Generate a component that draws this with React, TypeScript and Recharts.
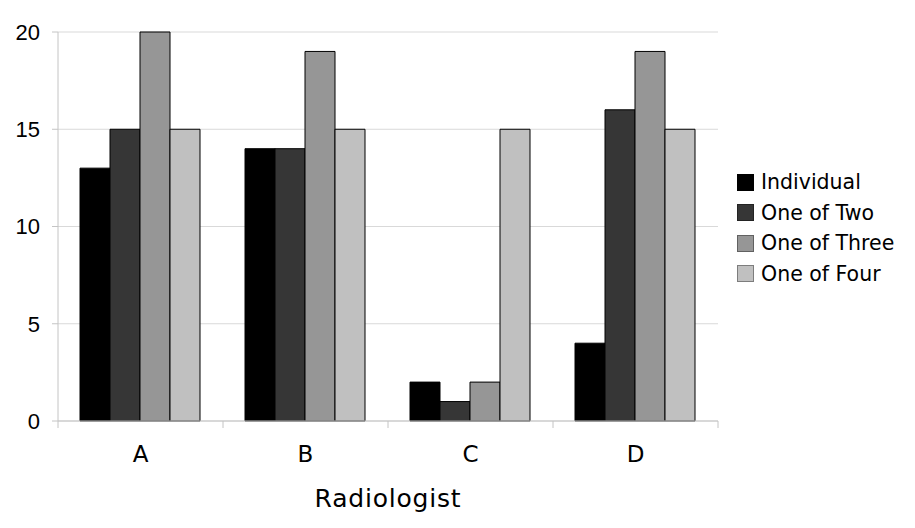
import { BarChart, Bar, XAxis, YAxis, CartesianGrid, Legend } from 'recharts';

const categories = ['A', 'B', 'C', 'D'];
const individual = [13, 14, 2, 4];
const oneOfTwo = [15, 14, 1, 16];
const oneOfThree = [20, 19, 2, 19];
const oneOfFour = [15, 15, 15, 15];
const yTicks = [0, 5, 10, 15, 20];

const series = [
  { key: 'individual', name: 'Individual', color: '#000000' },
  { key: 'oneOfTwo', name: 'One of Two', color: '#363636' },
  { key: 'oneOfThree', name: 'One of Three', color: '#969696' },
  { key: 'oneOfFour', name: 'One of Four', color: '#c0c0c0' },
];

const data = categories.map((radiologist, i) => ({
  radiologist,
  individual: individual[i],
  oneOfTwo: oneOfTwo[i],
  oneOfThree: oneOfThree[i],
  oneOfFour: oneOfFour[i],
}));

const WIDTH = 915;
const HEIGHT = 528;
const PLOT_LEFT = 58;
const PLOT_RIGHT = 718;
const LEGEND_WIDTH = 180;
const BAND = (PLOT_RIGHT - PLOT_LEFT) / categories.length;
const AXIS_GRAY = '#c4c4c4';
const X_TICK_OFFSET = 25;

// ticks sit on category boundaries, labels in the middle
function CategoryTick(props: any) {
  const { x, y, payload, index } = props;
  const axisY = y - X_TICK_OFFSET;
  const half = BAND / 2;
  return (
    <g>
      <line x1={x - half} x2={x - half} y1={axisY} y2={axisY + 7} stroke={AXIS_GRAY} />
      {index === categories.length - 1 && (
        <line x1={x + half} x2={x + half} y1={axisY} y2={axisY + 7} stroke={AXIS_GRAY} />
      )}
      <text x={x} y={y} dy="0.71em" textAnchor="middle" fontSize={23} fill="#000">
        {payload.value}
      </text>
    </g>
  );
}

function ValueTick(props: any) {
  const { x, y, payload } = props;
  return (
    <text
      x={x}
      y={y}
      dy="0.36em"
      textAnchor="end"
      fontSize={22}
      fill="#000"
      style={{ fontFamily: '"Liberation Sans", Arial, sans-serif' }}
    >
      {payload.value}
    </text>
  );
}

function LegendContent(props: any) {
  const { payload = [] } = props;
  const order = series.map((s) => s.name);
  const items = [...payload].sort((a: any, b: any) => order.indexOf(a.value) - order.indexOf(b.value));
  return (
    <div style={{ paddingLeft: 19 }}>
      {items.map((entry: any) => (
        <div
          key={entry.value}
          style={{ display: 'flex', alignItems: 'center', height: 30.5, color: '#000' }}
        >
          <span
            style={{
              width: 15,
              height: 15,
              background: entry.color,
              border: entry.color === '#000000' ? '1px solid #000' : '1px solid rgba(0,0,0,0.35)',
              marginRight: 7,
              flexShrink: 0,
            }}
          />
          <span style={{ fontSize: 20.5, whiteSpace: 'nowrap' }}>{entry.value}</span>
        </div>
      ))}
    </div>
  );
}

export default function App() {
  return (
    <div style={{ position: 'absolute', left: 0, top: 0, background: '#fff' }}>
      <BarChart
        width={WIDTH}
        height={HEIGHT}
        data={data}
        margin={{ top: 32, right: WIDTH - PLOT_RIGHT - LEGEND_WIDTH, left: 0, bottom: 0 }}
        barCategoryGap={22}
        barGap={0}
        style={{ fontFamily: '"DejaVu Sans", Verdana, sans-serif' }}
      >
        <CartesianGrid vertical={false} stroke="#d9d9d9" />
        <XAxis
          dataKey="radiologist"
          height={HEIGHT - 421}
          axisLine={{ stroke: AXIS_GRAY }}
          tickLine={false}
          tickSize={0}
          tickMargin={X_TICK_OFFSET}
          tick={<CategoryTick />}
          interval={0}
          label={{
            value: 'Radiologist',
            position: 'insideBottom',
            offset: 21,
            fontSize: 25,
            letterSpacing: 0.8,
            fill: '#000',
          }}
        />
        <YAxis
          width={PLOT_LEFT}
          domain={[0, 20]}
          ticks={yTicks}
          interval={0}
          axisLine={{ stroke: AXIS_GRAY }}
          tickLine={{ stroke: AXIS_GRAY }}
          tickSize={6}
          tickMargin={12}
          tick={<ValueTick />}
        />
        <Legend
          layout="vertical"
          align="right"
          verticalAlign="top"
          width={LEGEND_WIDTH}
          wrapperStyle={{ top: 167 }}
          content={<LegendContent />}
        />
        {series.map((s) => (
          <Bar
            key={s.key}
            dataKey={s.key}
            name={s.name}
            fill={s.color}
            stroke="#000"
            strokeWidth={1}
            isAnimationActive={false}
          />
        ))}
      </BarChart>
    </div>
  );
}
